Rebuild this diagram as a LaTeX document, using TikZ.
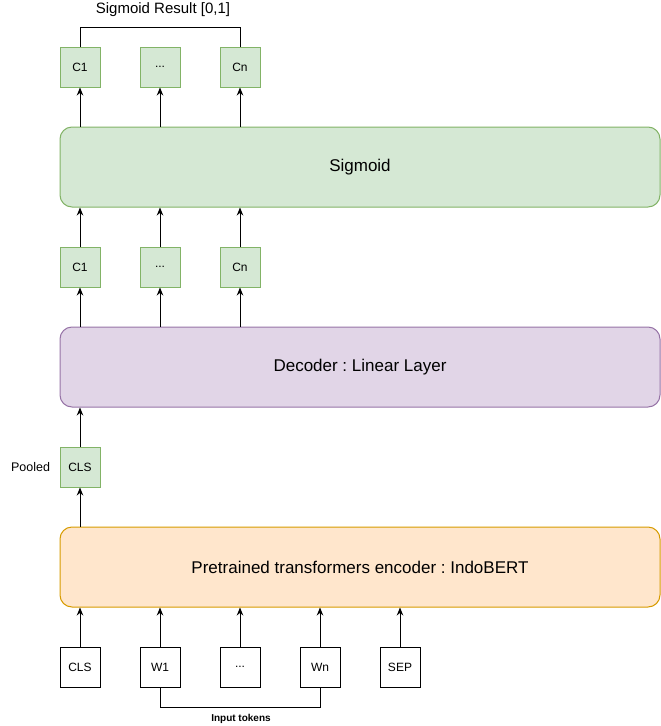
\documentclass[tikz,border=0pt]{standalone}
\usepackage{fontspec}
\setmainfont{Liberation Sans}
\usetikzlibrary{arrows.meta}
\frenchspacing
\definecolor{gfill}{HTML}{D5E8D4}
\definecolor{gline}{HTML}{82B366}
\definecolor{pfill}{HTML}{E1D5E7}
\definecolor{pline}{HTML}{9673A6}
\definecolor{ofill}{HTML}{FFE6CC}
\definecolor{oline}{HTML}{D79B00}
\newcommand{\dotsx}{.\kern0pt.\kern0pt.}
\tikzset{
  gbox/.style={draw=gline, fill=gfill, line width=1pt, minimum width=40pt, minimum height=40pt, inner sep=0pt, font=\fontsize{12}{14}\selectfont},
  wbox/.style={draw=black, fill=white, line width=1pt, minimum width=40pt, minimum height=40pt, inner sep=0pt, font=\fontsize{12}{14}\selectfont},
  bigbox/.style={rounded corners=12pt, line width=1pt, minimum width=600pt, minimum height=80pt, inner sep=0pt, font=\fontsize{17}{20}\selectfont},
  arr/.style={-{Stealth[length=8pt,width=6.5pt]}, line width=1pt},
  ln/.style={line width=1pt},
}
\begin{document}
\begin{tikzpicture}[x=1pt,y=-1pt]
\useasboundingbox (0,0) rectangle (661,726);
% top outputs
\node[gbox] (t1) at (80,67) {C1};
\node[gbox] (t2) at (160,67) {\dotsx};
\node[gbox] (t3) at (240,67) {Cn};
\node[font=\fontsize{15}{17}\selectfont] (title) at (163,10) {Sigmoid Result [0,1]};
\coordinate (tl) at (80,27);
\coordinate (tr) at (240,27);
\draw[ln] (t1.north) -- (tl) -- (tr) -- (t3.north);
% sigmoid
\node[bigbox, draw=gline, fill=gfill] (sig) at (360,167) {Sigmoid};
\draw[arr] (sig.north -| t1) -- (t1.south);
\draw[arr] (sig.north -| t2) -- (t2.south);
\draw[arr] (sig.north -| t3) -- (t3.south);
% middle
\node[gbox] (m1) at (80,267) {C1};
\node[gbox] (m2) at (160,267) {\dotsx};
\node[gbox] (m3) at (240,267) {Cn};
\draw[arr] (m1.north) -- (sig.south -| m1);
\draw[arr] (m2.north) -- (sig.south -| m2);
\draw[arr] (m3.north) -- (sig.south -| m3);
% decoder
\node[bigbox, draw=pline, fill=pfill] (dec) at (360,367) {Decoder : Linear Layer};
\draw[arr] (dec.north -| m1) -- (m1.south);
\draw[arr] (dec.north -| m2) -- (m2.south);
\draw[arr] (dec.north -| m3) -- (m3.south);
% pooled
\node[gbox] (cls) at (80,467) {CLS};
\node[font=\fontsize{12.5}{14}\selectfont] (pooled) at (30.5,467) {Pooled};
\draw[arr] (cls.north) -- (dec.south -| cls);
% encoder
\node[bigbox, draw=oline, fill=ofill] (enc) at (360,567) {Pretrained transformers encoder : IndoBERT};
\draw[arr] (enc.north -| cls) -- (cls.south);
% inputs
\node[wbox] (i1) at (80,667) {CLS};
\node[wbox] (i2) at (160,667) {W1};
\node[wbox] (i3) at (240,667) {\dotsx};
\node[wbox] (i4) at (320,667) {Wn};
\node[wbox] (i5) at (400,667) {SEP};
\foreach \i in {1,...,5} {\draw[arr] (i\i.north) -- (enc.south -| i\i);}
\coordinate (bl) at (160,707);
\coordinate (br) at (320,707);
\draw[ln] (i2.south) -- (bl) -- (br) -- (i4.south);
\node[font=\fontsize{10}{12}\selectfont\bfseries] (inp) at (241,719) {Input tokens};
\end{tikzpicture}
\end{document}
